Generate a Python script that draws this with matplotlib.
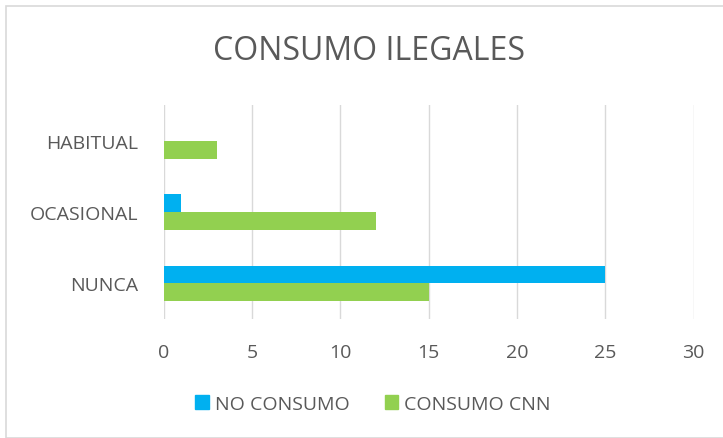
import matplotlib.pyplot as plt
from matplotlib.patches import Rectangle, Patch
import numpy as np

plt.rcParams['font.family'] = ['Open Sans', 'DejaVu Sans']

categorias = ['NUNCA', 'OCASIONAL', 'HABITUAL']
no_consumo = [25, 1, 0]
consumo_cnn = [15, 12, 3]
series = ['NO CONSUMO', 'CONSUMO CNN']
xticks = [0, 5, 10, 15, 20, 25, 30]

azul = '#00B0F0'
verde = '#92D050'
gris = '#595959'

fig = plt.figure(figsize=(7.23, 4.39), dpi=100)
# borde del grafico
fig.patches.append(Rectangle((6 / 723, 0), 1, 1 - 7 / 439, transform=fig.transFigure,
                             fill=False, edgecolor='#D9D9D9', linewidth=1.2))

ax = fig.add_axes([0.2263, 0.271, 0.9595 - 0.2263, 0.7585 - 0.271])
y = np.arange(len(categorias))
h = 0.25
ax.barh(y + h / 2, no_consumo, height=h, color=azul, label=series[0], zorder=3)
ax.barh(y - h / 2, consumo_cnn, height=h, color=verde, label=series[1], zorder=3)

ax.set_xlim(0, 30)
ax.set_ylim(-0.5, 2.5)
ax.set_xticks(xticks)
ax.set_yticks(y)
ax.set_yticklabels(categorias)
ax.grid(axis='x', color='#D9D9D9', linewidth=1, zorder=0)
for s in ax.spines.values():
    s.set_visible(False)
ax.tick_params(length=0, colors=gris, labelsize=14)
ax.tick_params(axis='x', pad=17)
ax.tick_params(axis='y', pad=18)

fig.text(369 / 723, 1 - 51 / 439, 'CONSUMO ILEGALES', ha='center', va='center',
         fontsize=23, color=gris)

handles = [Patch(color=azul), Patch(color=verde)]
leg = fig.legend(handles, series, loc='center', bbox_to_anchor=(373 / 723, 1 - 405 / 439),
                 ncol=2, frameon=False, fontsize=14, handlelength=0.7, handleheight=0.7,
                 handletextpad=0.3, columnspacing=1.8)
for t in leg.get_texts():
    t.set_color(gris)

fig.savefig('out.png', dpi=100)
